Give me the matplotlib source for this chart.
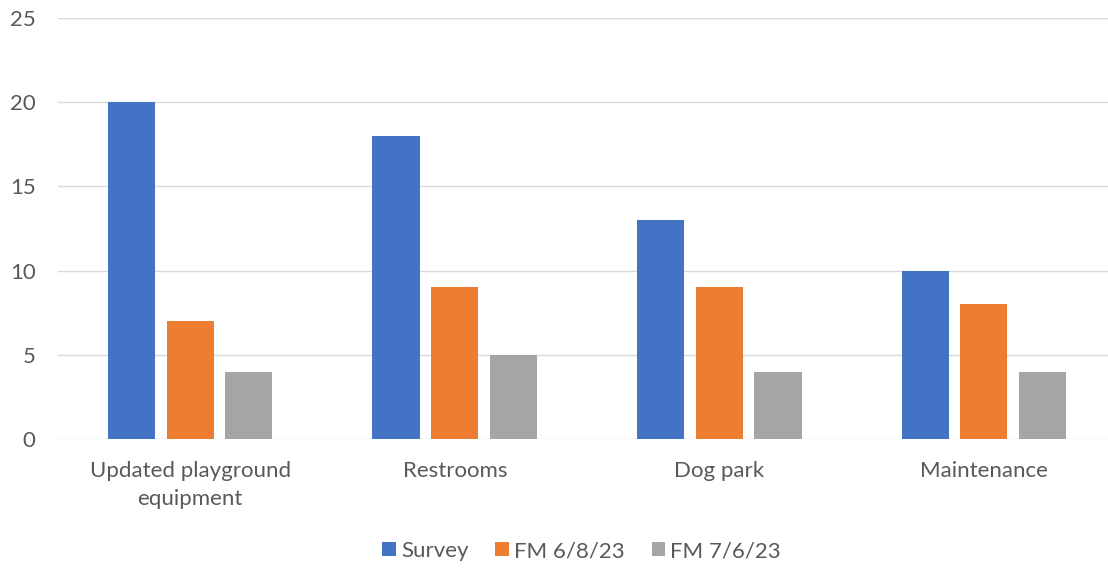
import numpy as np
import matplotlib
matplotlib.use("Agg")
import matplotlib.pyplot as plt

plt.rcParams["font.family"] = ["Lato", "DejaVu Sans"]

CATEGORIES = ["Updated playground\nequipment", "Restrooms", "Dog park", "Maintenance"]
SERIES = ["Survey", "FM 6/8/23", "FM 7/6/23"]
SURVEY = [20, 18, 13, 10]
FM_0608 = [7, 9, 9, 8]
FM_0706 = [4, 5, 4, 4]
COLORS = ["#4472C4", "#ED7D31", "#A5A5A5"]
TEXT = "#595959"

fig = plt.figure(figsize=(11.08, 5.70), dpi=100)
ax = fig.add_axes([0.0523, 0.2298, 0.955, 0.7386])

x = np.arange(len(CATEGORIES))
w = 0.178
step = 0.222
for i, (name, vals, col) in enumerate(zip(SERIES, [SURVEY, FM_0608, FM_0706], COLORS)):
    ax.bar(x + (i - 1) * step, vals, w, color=col, label=name, zorder=3)

ax.set_xlim(-0.5, len(CATEGORIES) - 0.5)
ax.set_ylim(0, 25)
ax.set_yticks(range(0, 26, 5))
ax.set_xticks(x)
ax.set_xticklabels(CATEGORIES, fontsize=16, color=TEXT, linespacing=1.5)
ax.tick_params(axis="y", labelsize=16, labelcolor=TEXT, length=0, pad=16)
ax.tick_params(axis="x", length=0, pad=16)
ax.grid(axis="y", color="#D9D9D9", lw=1, zorder=0)
for s in ["top", "right", "left", "bottom"]:
    ax.spines[s].set_visible(False)

ax.legend(loc="center", bbox_to_anchor=(0.495, -0.266), ncol=3, frameon=False,
          fontsize=16, labelcolor=TEXT, handlelength=0.6, handleheight=0.6,
          handletextpad=0.25, columnspacing=1.2)

fig.savefig("out.png", dpi=100)
